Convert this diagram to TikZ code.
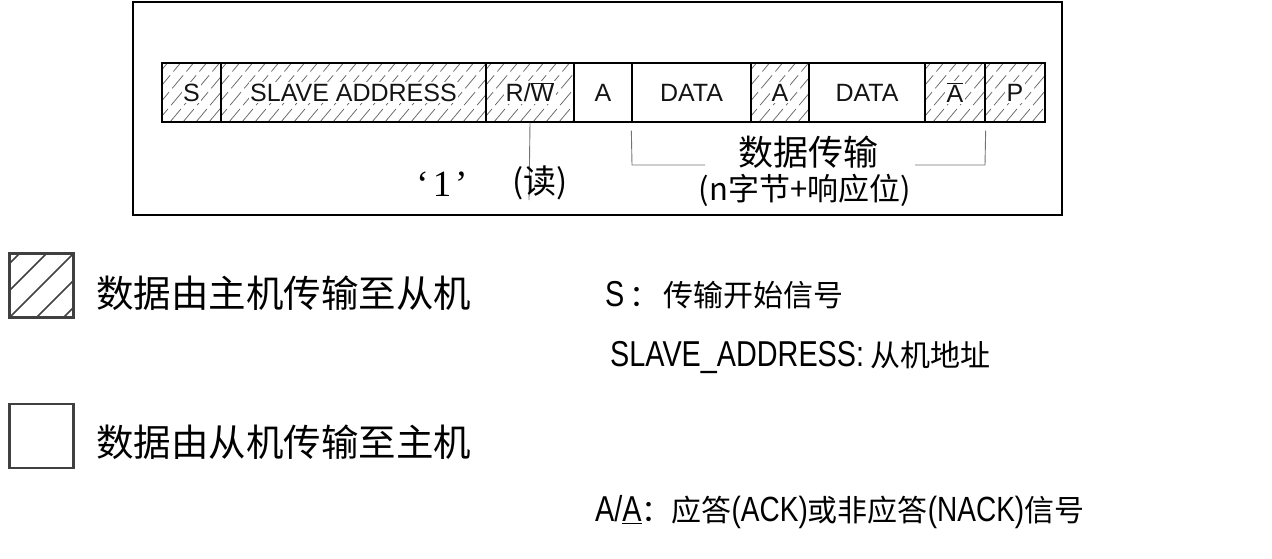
\documentclass[tikz,border=0pt]{standalone}
\usepackage{fontspec}
\setmainfont{Liberation Sans}
\newfontfamily\cjk{Noto Sans CJK SC}
\newfontfamily\narrow[FakeStretch=0.8]{Liberation Sans}
\newfontfamily\serif{Liberation Serif}
\newcommand{\wbox}[1]{{\setlength{\fboxsep}{1.5pt}\colorbox{white}{#1}}}
\tikzset{
  field/.style={draw=black, line width=1.3pt, minimum height=59pt, inner sep=0pt,
    font=\fontsize{25}{25}\selectfont, text=black!92},
  hatched/.style={field, path picture={
    \foreach \i in {-70,-57,...,280}{
      \draw[black!60, line width=0.75pt, dash pattern=on 17pt off 5pt]
        ([xshift=\i pt]path picture bounding box.south west) -- ++(52,-62);}}},
  legbox/.style={draw=black!75, line width=2.5pt, minimum width=64pt, minimum height=64pt, inner sep=0pt},
  leghatch/.style={legbox, path picture={
    \foreach \i in {-54,-27,...,60}{
      \draw[black!75, line width=1.6pt]
        ([xshift=\i pt]path picture bounding box.south west) -- ++(70,-70);}}},
  conn/.style={draw=black!55, line width=0.9pt},
  cjktext/.style={font=\cjk\fontsize{#1}{#1}\selectfont},
  legtext/.style={anchor=west, inner sep=0pt, text=black}
}
\begin{document}
\begin{tikzpicture}[x=1pt,y=-1pt]
\useasboundingbox (0,0) rectangle (1272,558);
% frame
\draw[line width=1.8pt] (133,2) rectangle (1062,215);
% bar fields
\node[hatched, minimum width=59pt]  (s)   at (191.5,92.5) {\wbox{S}};
\node[hatched, minimum width=265pt] (sa)  at (353.5,92.5) {\wbox{SLAVE ADDRESS}};
\node[hatched, minimum width=88pt]  (rw)  at (530,92.5) {\wbox{R/\(\overline{\mbox{W}}\)}};
\node[field,   minimum width=58pt]  (a1)  at (603,92.5) {A};
\node[field,   minimum width=119pt] (d1)  at (691.5,92.5) {DATA};
\node[hatched, minimum width=58pt]  (a2)  at (780,92.5) {\wbox{A}};
\node[field,   minimum width=116pt] (d2)  at (867,92.5) {DATA};
\node[hatched, minimum width=60pt]  (na)  at (955,92.5) {\wbox{\(\overline{\mbox{A}}\)}};
\node[hatched, minimum width=60pt]  (p)   at (1015,92.5) {\wbox{P}};
% R/W pointer
\coordinate (rwend) at (529,200);
\draw[conn] (rw.south) -- (rwend);
\node[font=\serif\fontsize{37}{37}\selectfont] (one) at (442,184) {‘\hspace{4pt}1\hspace{4pt}’};
\node[cjktext=33] (read) at (540,183) {(读)};
% data bracket
\coordinate (bl) at (632,165);
\coordinate (bl2) at (705,165);
\coordinate (br) at (985,165);
\coordinate (br2) at (915,165);
\draw[conn] ([yshift=-8pt]d1.south west) -- (bl) -- (bl2);
\draw[conn] ([yshift=-8pt]na.south east) -- (br) -- (br2);
\node[cjktext=35] (dt) at (808,152) {数据传输};
\node[cjktext=31] (nb) at (805,190) {(n字节+响应位)};
% legend
\node[leghatch] (lg1) at (41.5,285.5) {};
\node[legbox]   (lg2) at (41.5,436) {};
\node[legtext, cjktext=37.5] (t1) at (96,293) {数据由主机传输至从机};
\node[legtext, cjktext=37.5] (t2) at (96,442) {数据由从机传输至主机};
% definitions
\node[legtext, cjktext=30] (ds) at (605,295)
  {{\narrow\fontsize{36}{36}\selectfont S}\hspace{5pt}：\hspace{4pt}传输开始信号};
\node[legtext, cjktext=30] (dsa) at (610,357)
  {{\narrow\fontsize{36}{36}\selectfont SLAVE\_ADDRESS:} 从机地址};
\node[legtext, cjktext=30] (dack) at (595,512)
  {{\narrow\fontsize{36}{36}\selectfont A/\underline{A}}：应答{\narrow\fontsize{35}{35}\selectfont (ACK)}或非应答{\narrow\fontsize{35}{35}\selectfont (NACK)}信号};
\end{tikzpicture}
\end{document}
